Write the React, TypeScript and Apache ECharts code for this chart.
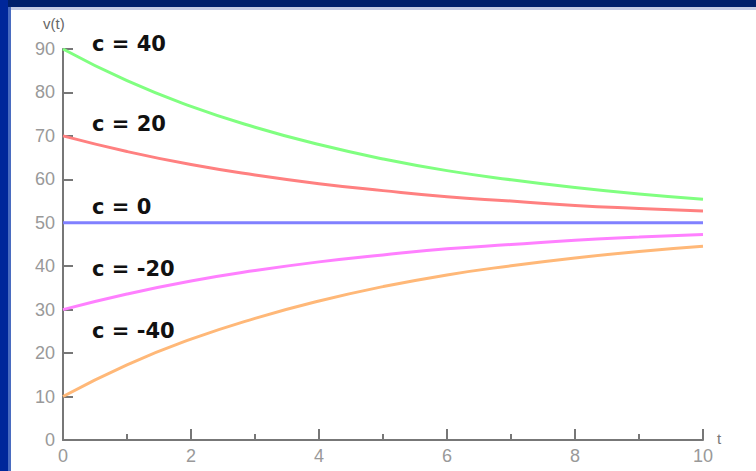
import React, { useEffect, useRef } from "react";
import * as echarts from "echarts";

const tValues = [0, 1, 2, 3, 4, 5, 6, 7, 8, 9, 10];
const cPlus40 = [90, 82.7, 76.8, 72, 68, 64.7, 62, 59.9, 58.1, 56.6, 55.4];
const cPlus20 = [70, 66.4, 63.4, 61, 59, 57.4, 56, 55, 54, 53.3, 52.7];
const cZero = [50, 50, 50, 50, 50, 50, 50, 50, 50, 50, 50];
const cMinus20 = [30, 33.6, 36.6, 39, 41, 42.6, 44, 45, 46, 46.7, 47.3];
const cMinus40 = [10, 17.3, 23.2, 28, 32, 35.3, 38, 40.1, 41.9, 43.4, 44.6];
const seriesNames = ["c = 40", "c = 20", "c = 0", "c = -20", "c = -40"];
const seriesColors = ["#80ff80", "#ff8080", "#8080ff", "#ff80ff", "#ffb878"];
const labelAt = [
  { x: 92, y: 44 },
  { x: 92, y: 124 },
  { x: 92, y: 207 },
  { x: 92, y: 269 },
  { x: 92, y: 331 },
];

export default function App() {
  const ref = useRef<HTMLDivElement>(null);
  useEffect(() => {
    if (!ref.current) return;
    const chart = echarts.init(ref.current, null, { renderer: "svg" });
    const all = [cPlus40, cPlus20, cZero, cMinus20, cMinus40];
    chart.setOption({
      animation: false,
      backgroundColor: "#ffffff",
      grid: { left: 63, right: 53, top: 49, bottom: 31, containLabel: false },
      xAxis: {
        type: "value",
        min: 0,
        max: 10,
        interval: 2,
        axisLine: { lineStyle: { color: "#777777", width: 2 } },
        axisTick: { inside: true, length: 11, lineStyle: { color: "#777777", width: 2 } },
        minorTick: { show: true, splitNumber: 2, length: 6, lineStyle: { color: "#777777", width: 2 } },
        axisLabel: {
          color: "#999999",
          fontSize: 18,
          fontFamily: "Liberation Sans",
          margin: 7,
        },
        splitLine: { show: false },
      },
      yAxis: {
        type: "value",
        min: 0,
        max: 90,
        interval: 10,
        axisLine: { show: true, lineStyle: { color: "#777777", width: 2 } },
        axisTick: { show: true, inside: true, length: 10, lineStyle: { color: "#777777", width: 2 } },
        axisLabel: { color: "#999999", fontSize: 18, fontFamily: "Liberation Sans", margin: 8 },
        splitLine: { show: false },
      },
      series: all.map((d, i) => ({
        name: seriesNames[i],
        type: "line",
        smooth: true,
        symbol: "none",
        data: tValues.map((t, j) => [t, d[j]]),
        lineStyle: { color: seriesColors[i], width: 3 },
      })),
      graphic: [
        { type: "rect", shape: { x: 0, y: 0, width: 756, height: 7 }, style: { fill: "#00206b" }, z: 100 },
        { type: "rect", shape: { x: 0, y: 7, width: 756, height: 3 }, style: { fill: "#c4cce4" }, z: 99 },
        { type: "rect", shape: { x: 0, y: 0, width: 8, height: 471 }, style: { fill: "#00279a" }, z: 101 },
        { type: "rect", shape: { x: 8, y: 7, width: 3, height: 464 }, style: { fill: "#4a6cc0" }, z: 101 },
        {
          type: "text",
          x: 43,
          y: 23,
          style: { text: "v(t)", fill: "#666666", font: "15px 'Liberation Sans'", textVerticalAlign: "middle" },
        },
        {
          type: "text",
          x: 717,
          y: 438,
          style: { text: "t", fill: "#777777", font: "15px 'Liberation Sans'", textVerticalAlign: "middle" },
        },
        ...labelAt.map((p, i) => ({
          type: "text",
          x: p.x,
          y: p.y,
          style: {
            text: seriesNames[i],
            fill: "#111111",
            font: "bold 21px 'DejaVu Sans'",
            textVerticalAlign: "middle",
          },
        })),
      ],
    });
    return () => chart.dispose();
  }, []);
  return (
    <div
      ref={ref}
      style={{ position: "absolute", left: 0, top: 0, width: 756, height: 471 }}
    />
  );
}
